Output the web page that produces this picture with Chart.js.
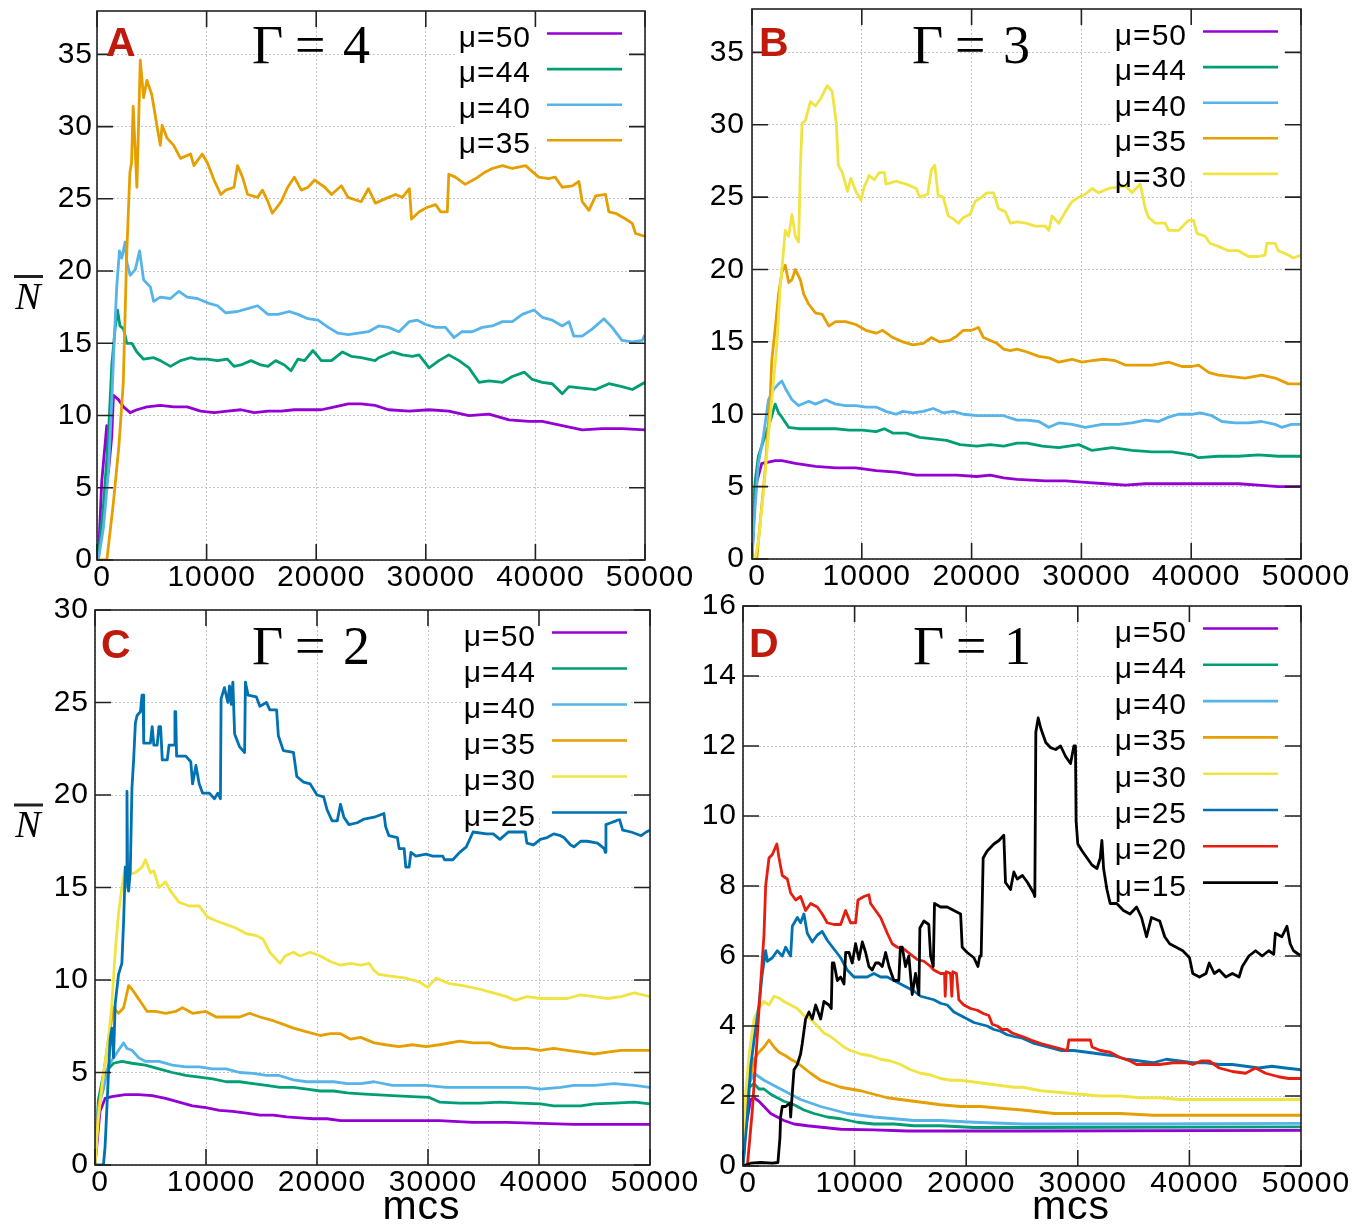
<!DOCTYPE html>
<html>
<head>
<meta charset="utf-8">
<script src="https://cdn.jsdelivr.net/npm/chart.js"></script>
<style>
  body { margin: 0; background: #fff; overflow: hidden; }
  #wrap { position: relative; width: 1369px; height: 1228px; background: #fff; }
  canvas { position: absolute; }
</style>
</head>
<body>
<div id="wrap">
  <canvas id="cA"></canvas>
  <canvas id="cB"></canvas>
  <canvas id="cC"></canvas>
  <canvas id="cD"></canvas>
</div>
<script>
// ---- tick labels ----
const xTicks = [0, 10000, 20000, 30000, 40000, 50000];
const yTicksAB = [0, 5, 10, 15, 20, 25, 30, 35];
const yTicksC = [0, 5, 10, 15, 20, 25, 30];
const yTicksD = [0, 2, 4, 6, 8, 10, 12, 14, 16];

// ---- series names / colours ----
const muLabels = ['μ=50', 'μ=44', 'μ=40', 'μ=35', 'μ=30', 'μ=25', 'μ=20', 'μ=15'];
const muColors = ['#9400d3', '#009e73', '#56b4e9', '#e69f00', '#f0e442', '#0072b2', '#e51e10', '#000000'];

// ---- panel A (Γ = 4) : [mcs, N] ----
const aMu50 = [[0,0],[150,0.5],[430,5.4],[890,9.3],[1040,6.1],[1350,8.6],[1500,11.4],[1960,11.1],[2420,10.6],[3030,10.2],[3640,10.4],[4560,10.6],[5780,10.7],[7000,10.6],[8230,10.6],[9460,10.3],[10680,10.2],[11900,10.3],[13130,10.4],[14350,10.2],[15600,10.3],[16800,10.3],[18000,10.4],[19250,10.4],[20470,10.4],[21700,10.6],[22920,10.8],[24100,10.8],[25370,10.7],[26600,10.4],[28500,10.3],[30300,10.4],[32100,10.3],[33940,10.0],[35760,10.1],[37600,9.7],[39400,9.6],[40630,9.6],[42450,9.3],[44270,9.0],[46100,9.1],[47900,9.1],[50000,9.0]];
const aMu44 = [[0,0],[150,0.5],[580,3.7],[1040,8.6],[1350,13.5],[1650,16],[1870,17.3],[2100,16.2],[2420,16],[2720,15],[3180,15],[3640,14.4],[4250,13.9],[5170,14],[5780,13.8],[6700,13.4],[7620,13.8],[8540,14.0],[9150,13.9],[10070,13.9],[11000,13.8],[11900,13.9],[12500,13.4],[13130,13.5],[14050,13.8],[14960,13.5],[15600,13.4],[16300,13.8],[17100,13.5],[17700,13.1],[18330,13.9],[18940,13.8],[19700,14.5],[20470,13.8],[21400,13.8],[22400,14.4],[23200,14.1],[24100,14.0],[25370,13.8],[25700,14.0],[26950,14.4],[27860,14.2],[28770,14.1],[29380,14.2],[30300,13.3],[31200,13.8],[32100,14.2],[33030,13.8],[33940,13.3],[34850,12.3],[35760,12.4],[37000,12.3],[37900,12.7],[39000,13.0],[39720,12.5],[40630,12.3],[41540,12.2],[42450,11.5],[43060,12.0],[44270,11.9],[45500,11.8],[46700,12.2],[47900,12.0],[48840,11.8],[50000,12.3]];
const aMu40 = [[0,0],[120,0],[580,2.2],[1040,6.1],[1350,11],[1560,15],[1800,18.9],[2050,21.4],[2260,20.9],[2570,22],[2720,20.6],[3030,19.7],[3490,20.1],[3890,21.4],[4250,19.4],[4870,18.9],[5170,17.9],[5780,18.2],[6700,18.1],[7470,18.6],[8230,18.2],[9150,18.1],[10070,17.8],[11000,17.6],[11750,17.1],[12820,17.2],[13740,17.4],[14650,17.6],[15600,17.0],[16500,17.0],[17560,17.2],[18330,17.0],[19250,16.7],[20170,16.6],[21100,16.1],[22000,15.7],[22920,15.6],[23840,15.7],[24760,15.8],[25700,16.2],[26600,16.1],[27560,15.8],[28500,16.5],[29230,16.6],[30000,16.3],[30900,16.1],[31800,16.1],[32570,15.4],[33300,15.8],[34240,15.8],[35150,16.1],[36070,16.2],[37000,16.5],[37900,16.5],[38800,17.0],[39870,17.3],[40630,16.8],[41540,16.6],[42450,16.2],[43060,16.5],[43500,15.5],[44270,15.5],[45200,16.0],[46250,16.7],[47000,16.1],[47900,15.2],[48840,15.1],[49750,15.2],[50000,15.6]];
const aMu35 = [[0,0],[900,0],[1500,4],[2000,7.9],[2400,12.3],[2700,20.9],[3000,26.8],[3150,27.5],[3300,31.4],[3640,25.8],[3950,34.6],[4250,32],[4560,33.2],[5000,32.2],[5480,30],[5780,28.7],[5940,30.1],[6400,29.2],[7000,28.7],[7620,27.8],[8540,28.1],[8840,27.3],[9600,28.1],[10070,27.5],[10680,26.3],[11300,25.3],[11750,25.6],[12500,25.8],[12820,27.3],[13280,26.5],[13740,25.3],[14650,25.1],[15100,25.6],[15600,24.8],[16000,24.0],[16800,24.8],[17400,25.8],[18000,26.5],[18640,25.6],[19250,25.8],[19860,26.3],[20780,25.8],[21400,25.3],[22300,25.9],[22900,25.1],[24100,24.8],[24760,25.7],[25400,24.7],[26600,25.1],[27250,25.3],[27860,25.1],[28500,25.7],[28700,23.6],[29400,24.1],[30100,24.4],[30900,24.6],[31350,24.1],[31960,24.1],[32100,26.7],[32700,26.5],[33600,26.0],[34550,26.4],[35300,26.8],[36070,27.1],[37000,27.3],[37900,27.1],[39100,27.3],[39700,26.9],[40300,26.5],[41200,26.4],[41800,26.5],[42450,25.8],[43370,25.9],[43970,26.2],[44270,24.8],[44880,24.2],[45500,25.2],[46400,25.3],[46700,24.1],[47320,24.0],[48230,23.6],[48840,23.3],[49140,22.6],[50000,22.4]];

// ---- panel B (Γ = 3) ----
const bMu50 = [[0,0],[280,4.9],[890,6.6],[1500,6.7],[2110,6.8],[2720,6.8],[3950,6.6],[5780,6.4],[7620,6.3],[9460,6.3],[11300,6.1],[13130,6.0],[14960,5.8],[16800,5.8],[18640,5.8],[20470,5.7],[21700,5.8],[22920,5.6],[24140,5.5],[26730,5.4],[28550,5.4],[30360,5.3],[32180,5.2],[34000,5.1],[35820,5.2],[37640,5.2],[40060,5.2],[41880,5.2],[44300,5.2],[46120,5.1],[47940,5.0],[50000,5.0]];
const bMu44 = [[0,0],[280,5.3],[580,7.1],[1190,8.5],[1650,9.5],[2110,10.7],[2420,10.1],[2720,9.8],[3340,9.1],[4250,9.0],[5170,9.0],[6400,9.0],[7620,9.0],[8850,8.9],[10070,8.9],[11300,8.8],[12060,9.0],[12820,8.7],[14050,8.7],[15270,8.4],[16500,8.3],[17720,8.2],[18950,7.9],[20470,7.8],[21700,7.9],[22920,7.8],[24140,8.0],[25060,8.0],[26430,7.8],[27940,7.7],[29760,7.9],[30970,7.5],[32790,7.7],[34610,7.5],[36420,7.4],[38250,7.4],[40060,7.2],[40670,7.0],[42480,7.1],[44300,7.1],[46120,7.2],[47940,7.1],[50000,7.1]];
const bMu40 = [[0,0],[280,3.6],[580,6.6],[1040,8.5],[1500,11],[1960,11.7],[2420,12.1],[2720,12.3],[3030,11.8],[3640,11],[4250,10.6],[5170,10.9],[5780,10.7],[6700,11.0],[7620,10.7],[8540,10.6],[9460,10.6],[10370,10.5],[11300,10.5],[12200,10.2],[13130,10.0],[13740,10.2],[14650,10.1],[15600,10.2],[16500,10.4],[17410,10.1],[18330,10.2],[19250,10.0],[20470,9.9],[21700,9.9],[22920,9.9],[24140,9.6],[25060,9.6],[26120,9.5],[27030,9.1],[27940,9.4],[29150,9.3],[30360,9.1],[31880,9.3],[33400,9.3],[34610,9.4],[35820,9.6],[37030,9.5],[37940,9.8],[38850,10.0],[40060,10.0],[40820,10.1],[41880,9.9],[42790,9.5],[44000,9.4],[45210,9.4],[46420,9.5],[47640,9.3],[48240,9.1],[49150,9.3],[50000,9.3]];
const bMu35 = [[0,0],[430,0],[730,2.4],[1190,6.1],[1650,11],[1800,13.7],[2110,15.9],[2420,18.3],[2720,19.8],[3030,20.3],[3340,19.1],[3640,19.3],[3950,20.0],[4400,19.3],[4710,18.3],[5170,17.6],[5780,17.0],[6400,16.9],[7000,16.1],[7620,16.4],[8540,16.4],[9460,16.2],[10370,15.8],[11300,15.6],[11900,15.8],[12820,15.3],[13740,15.0],[14650,14.8],[15600,14.9],[16340,15.3],[17100,15.0],[18000,15.1],[18640,15.4],[19250,15.8],[20000,15.8],[20620,16.0],[21080,15.3],[21700,15.1],[22300,14.9],[22920,14.5],[23530,14.4],[24140,14.5],[25060,14.3],[26120,14.0],[27030,13.9],[27940,13.6],[29150,13.8],[30060,13.6],[30970,13.7],[32030,13.8],[33090,13.7],[34000,13.4],[35210,13.4],[36420,13.4],[37940,13.6],[39150,13.3],[40060,13.3],[40670,13.4],[41580,12.9],[42480,12.7],[43700,12.6],[44910,12.5],[46420,12.7],[47640,12.5],[48850,12.1],[50000,12.1]];
const bMu30 = [[0,0],[280,0],[580,1.2],[1040,4.6],[1350,7.3],[1800,11],[2260,14.7],[2570,18.8],[2720,20],[3030,22.7],[3340,22.3],[3640,23.8],[3950,22.3],[4250,21.9],[4400,26.9],[4560,30.1],[4870,30.3],[5320,31.6],[5780,31.3],[6240,31.8],[6850,32.7],[7300,32.3],[7680,30.1],[7860,27.2],[8230,26.7],[8690,25.4],[9000,26.3],[9460,25.4],[9920,24.8],[10220,25.7],[10680,26.5],[11140,26.2],[11600,26.7],[12060,26.7],[12200,25.9],[13130,26.1],[14050,25.9],[14960,25.6],[15270,25.0],[16000,25.2],[16340,26.9],[16650,27.2],[16950,25.1],[17410,25.0],[17870,23.7],[18330,23.5],[18790,23.2],[19250,23.6],[19860,23.8],[20320,24.7],[20930,25.0],[21390,25.3],[22000,25.3],[22460,24.2],[23070,24.0],[23530,23.2],[24140,23.3],[24910,23.2],[25820,23.0],[26730,23.0],[27030,22.7],[27330,23.7],[27940,23.2],[28550,24.0],[29150,24.7],[29760,25.0],[30360,25.2],[30970,25.6],[31580,25.3],[32490,25.6],[33400,25.7],[34000,25.8],[34610,25.3],[35360,25.9],[35820,24.2],[36120,23.6],[36730,23.2],[37640,23.2],[37940,22.7],[38850,22.7],[39760,23.4],[40210,23.4],[40520,22.5],[41270,22.3],[41730,21.8],[42480,21.6],[43390,21.3],[44300,21.3],[45210,20.9],[46120,20.9],[46730,21.0],[46880,21.8],[47640,21.8],[47940,21.3],[48850,21.0],[49300,20.8],[50000,21.0]];

// ---- panel C (Γ = 2) ----
const cMu50 = [[0,0],[450,2.9],[910,3.6],[1520,3.7],[2730,3.8],[3940,3.8],[5150,3.75],[6360,3.6],[7570,3.4],[8790,3.2],[10000,3.1],[11210,2.95],[12420,2.9],[13640,2.8],[14850,2.7],[16060,2.7],[17270,2.6],[18480,2.55],[19700,2.5],[20910,2.5],[22120,2.4],[23330,2.4],[25150,2.4],[28000,2.4],[31030,2.4],[34060,2.3],[37090,2.3],[40120,2.25],[43150,2.2],[46180,2.2],[50000,2.2]];
const cMu44 = [[0,0],[300,3.5],[760,4.9],[1210,5.2],[1670,5.5],[2420,5.6],[3330,5.5],[4540,5.4],[5760,5.2],[6970,5.0],[8180,4.85],[9390,4.75],[10600,4.65],[11820,4.5],[13030,4.5],[14240,4.4],[15450,4.3],[16670,4.2],[17880,4.2],[19090,4.1],[20300,4.0],[21510,4.0],[22720,3.9],[23940,3.85],[25150,3.8],[26790,3.75],[28600,3.7],[30120,3.65],[31030,3.4],[32850,3.35],[34670,3.35],[36480,3.4],[38300,3.35],[40120,3.3],[41330,3.2],[42540,3.2],[43760,3.2],[44970,3.3],[46790,3.35],[48600,3.4],[50000,3.3]];
const cMu40 = [[0,0],[300,3.1],[760,4.1],[1210,5.4],[1670,5.8],[2120,6.2],[2580,6.6],[2880,6.3],[3330,6.2],[3940,5.8],[4540,5.6],[5760,5.6],[6970,5.4],[8180,5.3],[9390,5.3],[10600,5.2],[11820,5.2],[13030,5.0],[14240,4.95],[15450,4.85],[16520,4.85],[17880,4.6],[19090,4.5],[20300,4.5],[21510,4.5],[22720,4.4],[23940,4.4],[25150,4.5],[26790,4.3],[28600,4.3],[29820,4.3],[31630,4.2],[33450,4.2],[35270,4.2],[37090,4.2],[38910,4.2],[40120,4.1],[41940,4.2],[43150,4.3],[44970,4.3],[46790,4.4],[48600,4.3],[50000,4.2]];
const cMu35 = [[0,0],[300,2.9],[760,4.9],[1210,6.8],[1670,8.5],[2120,8.2],[2580,8.5],[3030,9.7],[3330,9.5],[3790,9.1],[4240,8.7],[4700,8.3],[5450,8.3],[6360,8.2],[7270,8.3],[7880,8.5],[8790,8.2],[10000,8.3],[10910,8.0],[11820,8.0],[13030,8.0],[13940,8.2],[14850,8.0],[16060,7.8],[16970,7.6],[17880,7.4],[19090,7.2],[20300,7.0],[21210,7.1],[22120,7.1],[23030,6.8],[23940,6.9],[25150,6.6],[26180,6.5],[27400,6.4],[28600,6.5],[29820,6.4],[31030,6.5],[32850,6.7],[34060,6.6],[35580,6.6],[36480,6.4],[37700,6.3],[38910,6.3],[40120,6.2],[41330,6.3],[42540,6.2],[43760,6.1],[44970,6.0],[46180,6.1],[47390,6.2],[48600,6.2],[50000,6.2]];
const cMu30 = [[0,0],[300,2.5],[760,4.9],[1210,6.8],[1520,8.7],[1820,11.5],[2120,13.6],[2420,15.0],[2730,16.1],[3030,15.7],[3640,15.8],[4240,16.1],[4540,16.5],[5000,15.8],[5300,15.9],[5760,15.0],[6360,15.3],[6820,14.8],[7570,14.2],[8480,14.0],[9390,14.0],[10150,13.4],[10910,13.2],[11820,13.0],[12730,12.8],[13640,12.5],[14540,12.4],[15150,12.2],[15750,11.5],[16670,10.9],[17120,11.3],[17880,11.5],[18480,11.3],[19390,11.5],[20300,11.3],[21210,11.0],[22120,10.8],[23030,10.9],[23940,10.8],[24700,10.9],[25150,10.5],[25580,10.3],[26790,10.2],[28000,10.1],[29210,9.9],[29970,9.6],[30730,10.1],[31940,9.8],[33150,9.7],[34670,9.5],[35880,9.3],[37090,9.1],[37850,8.9],[38910,9.1],[40120,9.0],[41330,9.0],[42540,9.0],[43760,9.2],[44970,9.1],[46180,9.0],[47390,9.1],[48600,9.3],[50000,9.1]];
const cMu25 = [[0,0],[760,0],[910,1],[1210,4.9],[1360,6.8],[1520,7.4],[1670,5.8],[1820,8.7],[2120,10.3],[2420,10.9],[2580,13.2],[2730,16.1],[2800,15.8],[2880,20.2],[2950,15.0],[3030,14.8],[3180,15.9],[3330,20.4],[3480,21.9],[3640,23.9],[3790,24.3],[4090,24.5],[4240,25.4],[4330,25.4],[4390,22.8],[4990,22.8],[5150,23.7],[5300,22.7],[5600,22.7],[5760,23.7],[5910,23.7],[6060,21.9],[6510,21.9],[6670,22.7],[7120,22.7],[7200,24.5],[7270,24.5],[7350,22.1],[8180,22.1],[8630,21.8],[8790,20.6],[9090,21.6],[9390,20.6],[9700,20.1],[10300,20.1],[10760,19.8],[11060,20.1],[11300,19.8],[11360,25.2],[11660,25.8],[11970,25.0],[12120,25.9],[12270,24.9],[12420,26.1],[12580,23.3],[13030,22.6],[13480,22.3],[13550,26.1],[13790,25.4],[14540,25.3],[14850,24.8],[15450,25.0],[15750,24.6],[16360,24.6],[16520,23.2],[16970,22.4],[17880,22.3],[18180,21.0],[18790,20.7],[19390,20.6],[20000,20.0],[20600,19.9],[20910,19.2],[21360,18.6],[21820,18.6],[22120,19.5],[22420,18.8],[22880,18.4],[23630,18.5],[24240,18.7],[25150,18.8],[26030,19.0],[26180,18.3],[26480,17.8],[27240,17.7],[27400,17.1],[27850,17.1],[28000,16.1],[28300,16.1],[28460,16.9],[28910,16.7],[29820,16.8],[30420,16.7],[31330,16.7],[31480,16.5],[32240,16.5],[32850,16.9],[33450,17.2],[34060,18.0],[35270,17.9],[35880,17.9],[36480,17.6],[37240,18.0],[38760,18.0],[38910,17.4],[39510,17.3],[40120,17.6],[40730,17.7],[41330,17.9],[41940,17.8],[42240,17.7],[42850,17.3],[43150,17.2],[43760,17.5],[44360,17.5],[45270,17.4],[45880,17.1],[45970,16.9],[46030,18.4],[46480,18.5],[46940,18.6],[47240,18.7],[47540,18.1],[48300,18.0],[49210,17.8],[49660,18.0],[50000,18.1]];

// ---- panel D (Γ = 1) ----
const dMu50 = [[0,0],[240,1.1],[690,1.9],[990,1.95],[1430,1.85],[1880,1.7],[2480,1.5],[3070,1.4],[3670,1.3],[4570,1.2],[5760,1.15],[7250,1.1],[8750,1.05],[11730,1.03],[14720,1.0],[25040,1.0],[50000,1.02]];
const dMu44 = [[0,0],[240,1.4],[540,2.25],[990,2.35],[1430,2.2],[1880,2.2],[2480,2.05],[3070,1.95],[3670,1.85],[4570,1.75],[5460,1.6],[6360,1.5],[7550,1.4],[8750,1.35],[10240,1.25],[11730,1.2],[13520,1.2],[15310,1.15],[17700,1.15],[20690,1.1],[25040,1.1],[50000,1.12]];
const dMu40 = [[0,0],[240,1.6],[540,2.35],[990,2.65],[1430,2.55],[1880,2.45],[2480,2.35],[3070,2.25],[3670,2.15],[4270,2.05],[5160,1.9],[6060,1.8],[6960,1.7],[8150,1.6],[9340,1.5],[10540,1.45],[11730,1.4],[13520,1.35],[15310,1.3],[17700,1.3],[20690,1.25],[25040,1.2],[35000,1.2],[50000,1.22]];
const dMu35 = [[0,0],[240,1.6],[540,2.35],[990,3.05],[1430,3.25],[1880,3.4],[2330,3.6],[2780,3.4],[3230,3.25],[3820,3.15],[4270,3.05],[4870,2.95],[5460,2.8],[6060,2.65],[6960,2.45],[7850,2.35],[8750,2.25],[9640,2.2],[10540,2.15],[11730,2.05],[12930,1.95],[14120,1.9],[15310,1.85],[16510,1.8],[17700,1.75],[19500,1.7],[21280,1.7],[23080,1.65],[25040,1.6],[27870,1.5],[30830,1.5],[33790,1.5],[36750,1.45],[39710,1.45],[42670,1.45],[45630,1.45],[50000,1.45]];
const dMu30 = [[0,0],[240,2.1],[540,3.2],[990,4.2],[1430,4.5],[1880,4.7],[2330,4.6],[2780,4.85],[3230,4.8],[3670,4.7],[4270,4.6],[4870,4.5],[5460,4.3],[6060,4.2],[6660,4.0],[7250,3.8],[7850,3.7],[8450,3.55],[9040,3.4],[9640,3.3],[10540,3.2],[11430,3.15],[12330,3.05],[13220,3.0],[14120,2.9],[15010,2.75],[15910,2.65],[16810,2.6],[17700,2.5],[18600,2.45],[19500,2.45],[20690,2.4],[21880,2.35],[23080,2.3],[24270,2.25],[25040,2.25],[26690,2.15],[28460,2.1],[30240,2.05],[32020,2.0],[33790,2.0],[35570,1.95],[37340,1.95],[39120,1.9],[42670,1.9],[46220,1.9],[50000,1.9]];
const dMu25 = [[0,0],[390,1.4],[690,2.85],[990,3.6],[1430,4.6],[1730,5.5],[2030,6.15],[2180,5.85],[2630,5.95],[3070,6.15],[3520,6.0],[3820,6.25],[4270,6.0],[4420,6.85],[4870,7.1],[5160,6.95],[5460,7.2],[5760,6.65],[6210,6.4],[6660,6.6],[7100,6.7],[7550,6.45],[8150,6.2],[8750,5.95],[9340,5.6],[9940,5.4],[10540,5.4],[11130,5.4],[11730,5.5],[12330,5.4],[12930,5.4],[13520,5.3],[14120,5.2],[14720,5.1],[15310,5.0],[15910,4.85],[16510,4.8],[17100,4.75],[17700,4.65],[18300,4.6],[18900,4.4],[19500,4.3],[20090,4.2],[20690,4.1],[21280,4.05],[21880,4.0],[22480,3.9],[23080,3.85],[23670,3.75],[24270,3.7],[25040,3.65],[26090,3.5],[27280,3.4],[28460,3.3],[29650,3.3],[30830,3.25],[32020,3.2],[33200,3.15],[34380,3.05],[35570,3.0],[36750,2.95],[37930,3.05],[39120,3.0],[40300,2.95],[41490,2.95],[42670,2.9],[43850,2.9],[45040,2.85],[46220,2.8],[47400,2.85],[48590,2.8],[50000,2.75]];
const dMu20 = [[0,0],[390,0],[840,1.6],[1280,3.7],[1580,5.2],[1880,6.6],[2030,8.0],[2330,8.8],[2630,8.9],[3030,9.2],[3230,8.8],[3520,8.3],[3970,8.2],[4270,7.8],[4720,7.6],[5160,7.7],[5610,7.3],[6060,7.5],[6660,7.4],[7100,7.2],[7550,6.95],[8150,6.9],[8750,6.9],[9190,7.3],[9640,6.95],[10090,6.95],[10300,7.6],[10840,7.7],[11280,7.75],[11430,7.5],[11880,7.3],[12330,7.1],[12930,6.65],[13370,6.35],[13820,6.25],[14420,6.2],[15010,6.05],[15610,5.9],[16210,5.85],[16810,5.7],[17100,5.6],[17700,5.5],[18060,5.5],[18120,4.85],[18210,5.55],[18600,5.5],[18710,4.85],[18800,5.55],[19130,5.5],[19340,4.75],[19790,4.6],[20390,4.5],[20990,4.45],[21580,4.35],[22030,4.3],[22330,4.05],[22780,4.0],[23220,3.9],[23670,3.9],[24120,3.8],[24570,3.75],[25040,3.7],[25800,3.6],[26690,3.5],[27870,3.4],[29050,3.3],[29200,3.6],[30680,3.6],[31130,3.6],[31270,3.4],[32020,3.3],[32900,3.25],[33790,3.1],[34680,3.0],[35270,2.9],[36160,2.9],[37340,2.9],[38530,2.95],[39710,2.95],[40300,2.9],[41040,3.0],[41780,3.0],[42670,2.8],[43850,2.7],[45040,2.65],[45630,2.75],[45930,2.8],[46820,2.65],[48000,2.55],[48890,2.5],[50000,2.5]];
const dMu15 = [[0,0],[690,0.08],[1580,0.1],[2630,0.08],[3130,0.1],[3310,0.8],[3370,1.4],[3520,1.7],[3820,1.7],[4210,1.8],[4270,1.4],[4420,2.1],[4570,2.75],[4870,2.9],[5160,3.2],[5310,3.5],[5610,4.2],[5910,4.4],[6210,4.2],[6510,4.6],[6960,4.2],[7250,4.7],[7700,4.6],[7910,4.5],[8000,5.8],[8150,5.8],[8450,5.3],[8750,5.4],[9050,5.2],[9200,6.1],[9500,6.1],[9790,5.8],[10090,6.35],[10390,5.9],[10690,6.4],[10990,6.1],[11280,5.7],[11580,5.6],[11880,5.8],[12180,5.8],[12480,5.7],[12780,6.1],[13080,5.7],[13520,5.3],[13960,5.3],[14100,6.25],[14270,6.25],[14560,5.7],[14860,6.0],[15160,4.9],[15460,5.5],[15760,4.9],[15850,6.8],[16210,7.0],[16650,6.9],[16810,6.0],[17050,5.7],[17160,7.5],[17700,7.4],[18300,7.4],[18900,7.3],[19500,7.2],[19640,6.25],[20090,6.1],[20690,5.95],[21050,5.7],[21220,6.0],[21340,6.0],[21520,8.8],[21880,9.0],[22480,9.2],[22930,9.3],[23370,9.45],[23520,8.1],[23970,7.9],[24270,8.4],[24570,8.2],[25040,8.3],[25500,8.1],[26040,7.8],[26150,7.7],[26240,12.4],[26450,12.8],[26690,12.5],[27130,12.1],[27570,11.95],[28020,11.9],[28460,12.0],[28910,11.7],[29350,11.5],[29650,12.0],[29790,12.0],[29850,9.85],[30000,9.2],[30390,9.0],[30830,8.8],[31270,8.6],[31720,8.5],[32010,8.8],[32160,9.3],[32310,8.5],[32610,7.9],[32900,7.5],[33490,7.5],[34090,7.3],[34680,7.2],[35270,7.4],[35710,7.1],[36160,6.55],[36600,7.1],[37340,7.0],[37790,6.55],[38230,6.35],[38820,6.25],[39410,6.15],[40010,5.95],[40300,5.5],[40900,5.4],[41490,5.5],[41780,5.8],[42230,5.5],[42670,5.6],[43260,5.4],[43850,5.5],[44450,5.4],[44740,5.7],[45330,6.0],[45930,6.15],[46520,6.0],[47110,6.15],[47560,6.05],[47700,6.65],[48290,6.55],[48740,6.85],[49030,6.35],[49330,6.15],[50000,6.0]];

const FONT = 'Liberation Sans';
Chart.defaults.font.family = FONT;
Chart.defaults.font.size = 30;
Chart.defaults.color = '#000';

// frame with inward ticks, legend, panel letter, Γ title, axis titles
const decor = {
  id: 'decor',
  beforeDraw(chart) {
    chart.ctx.letterSpacing = '1px';
  },
  afterDraw(chart, args, o) {
    const ctx = chart.ctx;
    const { left, top, right, bottom } = chart.chartArea;
    const xs = chart.scales.x, ys = chart.scales.y;
    ctx.save();

    // legend (opaque box, text right aligned, sample on the right)
    ctx.font = '30px ' + FONT;
    ctx.letterSpacing = '1px';
    const tr = right - 114, s1 = right - 98, s2 = right - 23;
    const row0 = top + 22.5;
    let wmax = 0;
    o.labels.forEach(l => { wmax = Math.max(wmax, ctx.measureText(l).width); });
    const n = o.labels.length;
    ctx.fillStyle = '#fff';
    ctx.fillRect(tr - wmax - 3, row0 - 16, s2 + 4 - (tr - wmax - 3), (n - 1) * o.rowGap + 22);
    ctx.textAlign = 'right';
    ctx.textBaseline = 'alphabetic';
    o.labels.forEach((l, i) => {
      const y = row0 + i * o.rowGap;
      ctx.fillStyle = '#000';
      ctx.fillText(l, tr, y + 13);
      ctx.strokeStyle = o.colors[i];
      ctx.lineWidth = 2.6;
      ctx.beginPath(); ctx.moveTo(s1, y); ctx.lineTo(s2, y); ctx.stroke();
    });

    // frame + ticks pointing inwards on all four sides
    ctx.strokeStyle = '#222';
    ctx.lineWidth = 1.6;
    ctx.strokeRect(left, top, right - left, bottom - top);
    ctx.beginPath();
    xs.ticks.forEach(t => {
      const p = xs.getPixelForValue(t.value);
      ctx.moveTo(p, bottom); ctx.lineTo(p, bottom - 16);
      ctx.moveTo(p, top); ctx.lineTo(p, top + 16);
    });
    ys.ticks.forEach(t => {
      const p = ys.getPixelForValue(t.value);
      ctx.moveTo(left, p); ctx.lineTo(left + 16, p);
      ctx.moveTo(right, p); ctx.lineTo(right - 16, p);
    });
    ctx.stroke();

    // texts placed in page coordinates
    const ox = o.ox, oy = o.oy;
    ctx.textAlign = 'left';
    ctx.letterSpacing = '0px';
    ctx.font = 'bold 41px ' + FONT;
    ctx.fillStyle = '#bf1a0b';
    ctx.fillText(o.letter[0], o.letter[1] - ox, o.letter[2] - oy);

    ctx.fillStyle = '#000';
    ctx.font = '54px "Liberation Serif"';
    const gx = o.title[0] - ox, gy = o.title[1] - oy;
    ctx.fillText('Γ', gx, gy);
    ctx.fillText('=', gx + 43, gy);
    ctx.fillText(o.gamma, gx + 91, gy);

    if (o.ntitle) {
      ctx.font = 'italic 38px "Liberation Serif"';
      ctx.textAlign = 'center';
      ctx.fillText('N', o.ntitle[0] - ox, o.ntitle[1] - oy);
      ctx.lineWidth = 3;
      ctx.beginPath();
      ctx.moveTo(o.ntitle[0] - 14 - ox, o.ntitle[1] - 32 - oy);
      ctx.lineTo(o.ntitle[0] + 15 - ox, o.ntitle[1] - 32 - oy);
      ctx.stroke();
    }
    if (o.mcs) {
      ctx.font = '41px ' + FONT;
      ctx.letterSpacing = '1px';
      ctx.textAlign = 'center';
      ctx.fillText('mcs', (left + right) / 2 + 49, o.mcs - oy);
    }
    ctx.restore();
  }
};

function makePanel(cfg) {
  const a = cfg.area;
  const ox = a.l - cfg.yW, oy = a.t - 30;
  const w = (a.r + cfg.rPad) - ox, h = (a.b + cfg.xH) - oy;
  const cv = document.getElementById(cfg.id);
  cv.width = w; cv.height = h;
  cv.style.left = ox + 'px'; cv.style.top = oy + 'px';
  cv.style.width = w + 'px'; cv.style.height = h + 'px';

  const datasets = cfg.series.map((s, i) => ({
    label: muLabels[i],
    data: s.map(p => ({ x: p[0], y: p[1] })),
    borderColor: muColors[i],
    borderWidth: 2.8,
    borderJoinStyle: 'round',
    pointRadius: 0,
    fill: false,
    tension: 0,
    order: -i
  }));

  new Chart(cv.getContext('2d'), {
    type: 'line',
    data: { datasets },
    options: {
      responsive: false,
      devicePixelRatio: 1,
      animation: false,
      layout: { padding: { left: 0, top: 30, right: cfg.rPad, bottom: 0 } },
      plugins: {
        legend: { display: false },
        tooltip: { enabled: false },
        decor: {
          ox, oy,
          labels: muLabels.slice(0, cfg.series.length),
          colors: muColors.slice(0, cfg.series.length),
          rowGap: cfg.rowGap,
          letter: cfg.letter,
          title: cfg.title,
          gamma: cfg.gamma,
          ntitle: cfg.ntitle,
          mcs: cfg.mcs
        }
      },
      scales: {
        x: {
          type: 'linear', min: 0, max: 50000,
          afterBuildTicks: s => { s.ticks = xTicks.map(v => ({ value: v })); },
          afterFit: s => { s.height = cfg.xH; },
          ticks: { autoSkip: false, maxRotation: 0, minRotation: 0, padding: 0, labelOffset: 5, callback: v => String(v) },
          grid: { color: '#c4c4c4', lineWidth: 1, drawTicks: false },
          border: { display: false, dash: [2, 2] }
        },
        y: {
          type: 'linear', min: 0, max: cfg.yMax,
          afterBuildTicks: s => { s.ticks = cfg.yTicks.map(v => ({ value: v })); },
          afterFit: s => { s.width = cfg.yW; },
          ticks: { padding: cfg.yPad, callback: v => String(v) },
          grid: { color: '#c4c4c4', lineWidth: 1, drawTicks: false },
          border: { display: false, dash: [2, 2] }
        }
      }
    },
    plugins: [decor]
  });
}

makePanel({ id: 'cA', area: { l: 97, t: 11, r: 645, b: 560 }, yW: 97, xH: 40, rPad: 60, yMax: 38, yTicks: yTicksAB, yPad: 4,
  series: [aMu50, aMu44, aMu40, aMu35], rowGap: 35.6, letter: ['A', 106, 56], title: [252, 63], gamma: '4',
  ntitle: [28, 308.5], mcs: null });
makePanel({ id: 'cB', area: { l: 752, t: 9, r: 1301, b: 559 }, yW: 55, xH: 40, rPad: 60, yMax: 38, yTicks: yTicksAB, yPad: 7,
  series: [bMu50, bMu44, bMu40, bMu35, bMu30], rowGap: 35.6, letter: ['B', 759, 56], title: [912, 63], gamma: '3',
  ntitle: null, mcs: null });
makePanel({ id: 'cC', area: { l: 95, t: 610, r: 650, b: 1165 }, yW: 95, xH: 63, rPad: 47, yMax: 30, yTicks: yTicksC, yPad: 6,
  series: [cMu50, cMu44, cMu40, cMu35, cMu30, cMu25], rowGap: 36, letter: ['C', 101, 658], title: [252, 664], gamma: '2',
  ntitle: [28, 837], mcs: 1219 });
makePanel({ id: 'cD', area: { l: 743, t: 606, r: 1301, b: 1166 }, yW: 46, xH: 62, rPad: 60, yMax: 16, yTicks: yTicksD, yPad: 6,
  series: [dMu50, dMu44, dMu40, dMu35, dMu30, dMu25, dMu20, dMu15], rowGap: 36.3, letter: ['D', 749, 657], title: [913, 664], gamma: '1',
  ntitle: null, mcs: 1219 });
</script>
</body>
</html>
